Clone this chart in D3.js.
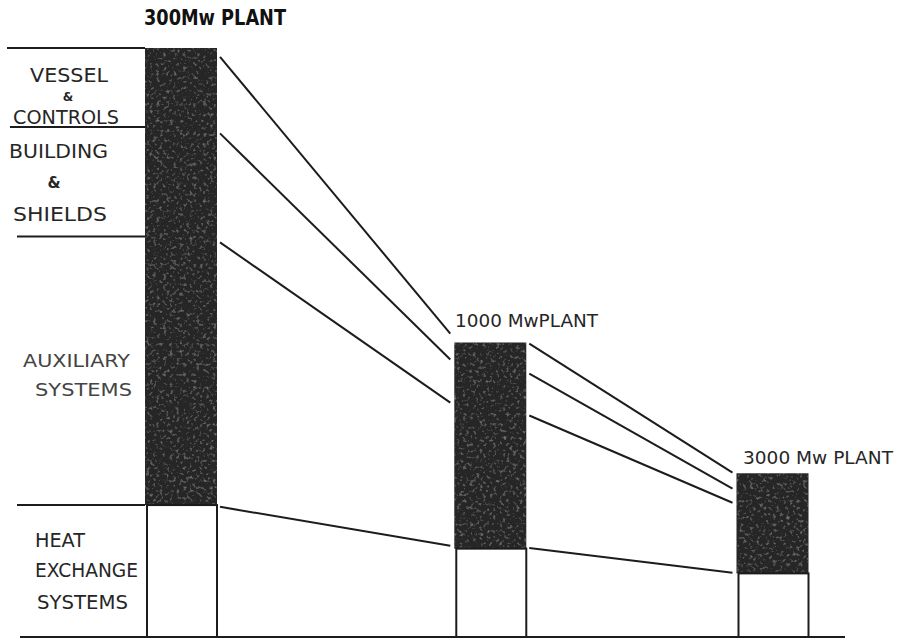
<!DOCTYPE html>
<html><head><meta charset="utf-8">
<script src="https://cdn.jsdelivr.net/npm/d3@7"></script>
<style>html,body{margin:0;padding:0;background:#fff;} svg{display:block;}</style>
</head><body>
<script>
// ---- data (relative capital cost, 300 Mw plant total = 100) ----
const plantsMw   = [300, 1000, 3000];
const plantNames = ["300Mw PLANT", "1000 MwPLANT", "3000 Mw PLANT"];
const segments   = ["VESSEL & CONTROLS", "BUILDING & SHIELDS", "AUXILIARY SYSTEMS", "HEAT EXCHANGE SYSTEMS"];
const totalCost  = [100, 50.0, 27.8];      // top of each bar
const heatCost   = [22.4, 15.0, 10.8];     // heat exchange systems (white part)
// boundaries of the 300 Mw plant segments (cumulative from bottom)
const bounds300  = [100, 86.6, 68.0, 22.4];
// connecting lines (as drawn): value at left end / right end
const link12From = [98.5, 85.5, 67.0, 22.1];
const link12To   = [51.5, 47.1, 39.8, 15.5];
const link23From = [49.8, 44.7, 37.6, 15.1];
const link23To   = [27.9, 25.2, 22.8, 10.9];

const W = 898, H = 640;
const svg = d3.select("body").append("svg").attr("width", W).attr("height", H);

const defs = svg.append("defs");
const f = defs.append("filter").attr("id", "grain").attr("x", 0).attr("y", 0).attr("width", 1).attr("height", 1);
f.append("feTurbulence").attr("type", "fractalNoise").attr("baseFrequency", 0.3).attr("numOctaves", 2).attr("seed", 7).attr("result", "n");
f.append("feColorMatrix").attr("in", "n").attr("type", "matrix")
  .attr("values", "0 0 0 0 0.38  0 0 0 0 0.38  0 0 0 0 0.38  1.3 0 0 0 -0.72").attr("result", "spots");
f.append("feComposite").attr("in", "spots").attr("in2", "SourceGraphic").attr("operator", "in").attr("result", "s2");
const fm = f.append("feMerge");
fm.append("feMergeNode").attr("in", "SourceGraphic");
fm.append("feMergeNode").attr("in", "s2");

const x = d3.scaleLog().domain([300, 3000]).range([181, 772.5]);
const y = d3.scaleLinear().domain([0, 100]).range([637, 48]);
const bw = 72;
const ink = "#1c1c1c";

// baseline
svg.append("line").attr("x1", 20).attr("x2", 845).attr("y1", y(0)).attr("y2", y(0))
  .attr("stroke", ink).attr("stroke-width", 2);

// left label separator lines (300 Mw)
const sepStart = [7, 10, 17, 17];
svg.selectAll(".sep").data(bounds300).join("line")
  .attr("x1", (d, i) => sepStart[i]).attr("x2", x(300) - bw / 2)
  .attr("y1", d => y(d)).attr("y2", d => y(d))
  .attr("stroke", ink).attr("stroke-width", 2);

// dark (upper) parts of bars
svg.selectAll(".dark").data(plantsMw).join("rect")
  .attr("x", d => x(d) - bw / 2).attr("width", bw)
  .attr("y", (d, i) => y(totalCost[i]))
  .attr("height", (d, i) => y(heatCost[i]) - y(totalCost[i]))
  .attr("fill", "#272727").attr("filter", "url(#grain)");

// white heat-exchange parts
svg.selectAll(".heat").data(plantsMw).join("rect")
  .attr("x", d => x(d) - bw / 2 + 2).attr("width", bw - 2)
  .attr("y", (d, i) => y(heatCost[i]))
  .attr("height", (d, i) => y(0) - y(heatCost[i]))
  .attr("fill", "#fff").attr("stroke", ink).attr("stroke-width", 2);

// connecting lines
function links(fromMw, toMw, a, b) {
  svg.append("g").selectAll("line").data(a).join("line")
    .attr("x1", x(fromMw) + bw / 2 + 3).attr("x2", x(toMw) - bw / 2 - 4)
    .attr("y1", d => y(d)).attr("y2", (d, i) => y(b[i]))
    .attr("stroke", ink).attr("stroke-width", 2);
}
links(300, 1000, link12From, link12To);
links(1000, 3000, link23From, link23To);

const font = "'DejaVu Sans', 'Liberation Sans', Arial, sans-serif";
function txt(s, xx, yy, size, len, weight, anchor) {
  const t = svg.append("text").attr("x", xx).attr("y", yy).text(s)
    .attr("font-family", font).attr("font-size", size)
    .attr("font-weight", weight || "normal").attr("fill", "#262626")
    .attr("text-anchor", anchor || "start");
  if (len) t.attr("textLength", len).attr("lengthAdjust", "spacingAndGlyphs");
  return t;
}
// plant titles
txt(plantNames[0], 144, 25, 21, 142, "bold").attr("fill", "#111");
txt(plantNames[1], 455, 327, 18, 143);
txt(plantNames[2], 743, 464, 18, 150);

// segment labels
const lab = segments.map(s => s.split(" "));
txt(lab[0][0], 30, 82, 20, 78);
txt(lab[0][1], 68, 101, 12, null, "bold", "middle");
txt(lab[0][2], 13, 124, 20, 106);
txt(lab[1][0], 9, 158, 20, 99);
txt(lab[1][1], 54, 188, 15, null, "bold", "middle");
txt(lab[1][2], 13, 221, 20, 94);
txt(lab[2][0], 23, 367, 18, 107).attr("fill", "#444");
txt(lab[2][1], 35, 396, 18, 97).attr("fill", "#444");
txt(lab[3][0], 35, 547, 20, 50);
txt(lab[3][1], 35, 577, 20, 103);
txt(lab[3][2], 37, 609, 20, 91);
</script>
</body></html>
